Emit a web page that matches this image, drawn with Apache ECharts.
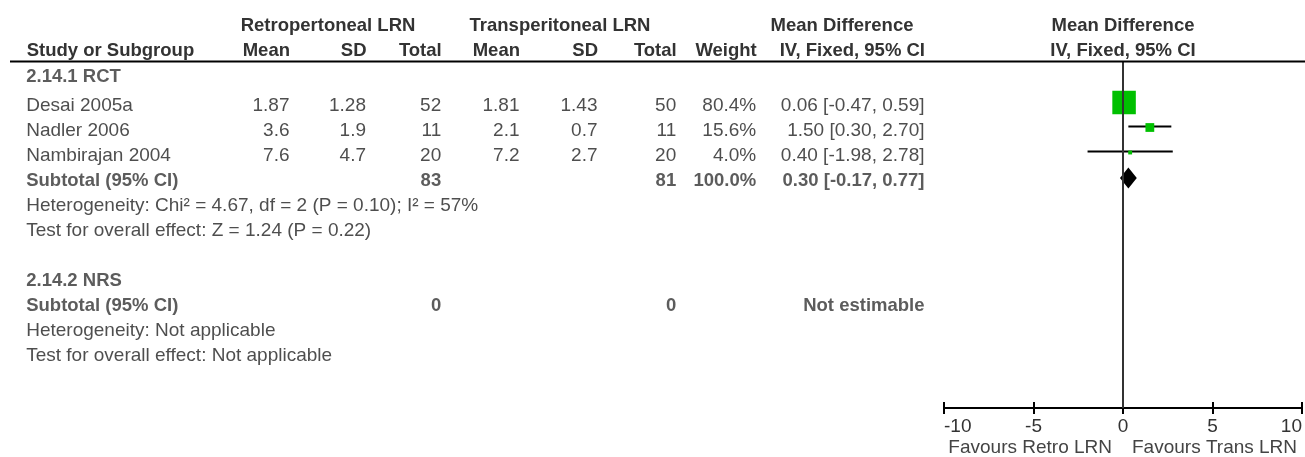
<!DOCTYPE html>
<html>
<head>
<meta charset="utf-8">
<script src="https://cdn.jsdelivr.net/npm/echarts@6/dist/echarts.min.js"></script>
<style>
  html, body { margin: 0; padding: 0; background: #fff; }
  #forest { width: 1305px; height: 457px; }
</style>
</head>
<body>
<div id="forest"></div>
<script>
// study data (MD, IV fixed)
const studies = ['Desai 2005a', 'Nadler 2006', 'Nambirajan 2004'];
const retroMean = [1.87, 3.6, 7.6];
const retroSD = [1.28, 1.9, 4.7];
const retroN = [52, 11, 20];
const transMean = [1.81, 2.1, 7.2];
const transSD = [1.43, 0.7, 2.7];
const transN = [50, 11, 20];
const weights = [80.4, 15.6, 4.0];
const md = [0.06, 1.5, 0.4];
const ciLow = [-0.47, 0.3, -1.98];
const ciHigh = [0.59, 2.7, 2.78];

// subgroup 2.14.1 pooled result
const subN = [83, 81];
const subWeight = 100.0;
const subMd = [0.3, -0.17, 0.77]; // md, low, high
const chi2 = 4.67, df = 2, pHet = 0.10, i2 = 57;
const zVal = 1.24, pZ = 0.22;

// subgroup 2.14.2 (no studies)
const nrsN = [0, 0];

const xTicks = [-10, -5, 0, 5, 10];

// layout
const FONT = 'Liberation Sans, Arial, sans-serif';
const FS = 19;
const FS_B = 18.5;
const TXT = '#222';
const TXT_B = '#333';
const TOP = 61.5;
const GRID_H = 346.5;
const ROW_MIN = -0.8, ROW_MAX = 13.06;
const PLOT_L = 944, PLOT_R = 3;
// right edge of each table column
const COL = {
  name: 26.7, m1: 290, sd1: 366.5, n1: 441.7,
  m2: 520, sd2: 598, n2: 676.7, w: 756.7, ci: 925
};
// rows of the table
const ROW = { rct: 0, study: [1, 2, 3], sub: 4, het: 5, test: 6, nrs: 8, nrsSub: 9, nrsHet: 10, nrsTest: 11 };

const ciText = (m, lo, hi) => `${m.toFixed(2)} [${lo.toFixed(2)}, ${hi.toFixed(2)}]`;

function cell(x, row, text, align, bold, dy) {
  return {
    value: [x, row, text],
    label: {
      align: align,
      fontWeight: bold ? 'bold' : 'normal',
      fontSize: bold ? FS_B : FS,
      color: bold ? TXT_B : TXT,
      offset: [0, dy || 0]
    }
  };
}

const cells = [];
cells.push(cell(COL.name, ROW.rct, '2.14.1 RCT', 'left', true, -4));
studies.forEach((s, i) => {
  const r = ROW.study[i];
  cells.push(cell(COL.name, r, s, 'left'));
  cells.push(cell(COL.m1, r, String(retroMean[i]), 'right'));
  cells.push(cell(COL.sd1, r, String(retroSD[i]), 'right'));
  cells.push(cell(COL.n1, r, String(retroN[i]), 'right'));
  cells.push(cell(COL.m2, r, String(transMean[i]), 'right'));
  cells.push(cell(COL.sd2, r, String(transSD[i]), 'right'));
  cells.push(cell(COL.n2, r, String(transN[i]), 'right'));
  cells.push(cell(COL.w, r, weights[i].toFixed(1) + '%', 'right'));
  cells.push(cell(COL.ci, r, ciText(md[i], ciLow[i], ciHigh[i]), 'right'));
});
cells.push(cell(COL.name, ROW.sub, 'Subtotal (95% CI)', 'left', true));
cells.push(cell(COL.n1, ROW.sub, String(subN[0]), 'right', true));
cells.push(cell(COL.n2, ROW.sub, String(subN[1]), 'right', true));
cells.push(cell(COL.w, ROW.sub, subWeight.toFixed(1) + '%', 'right', true));
cells.push(cell(COL.ci, ROW.sub, ciText(subMd[0], subMd[1], subMd[2]), 'right', true));
cells.push(cell(COL.name, ROW.het,
  `Heterogeneity: Chi² = ${chi2.toFixed(2)}, df = ${df} (P = ${pHet.toFixed(2)}); I² = ${i2}%`, 'left'));
cells.push(cell(COL.name, ROW.test, `Test for overall effect: Z = ${zVal.toFixed(2)} (P = ${pZ.toFixed(2)})`, 'left'));
cells.push(cell(COL.name, ROW.nrs, '2.14.2 NRS', 'left', true));
cells.push(cell(COL.name, ROW.nrsSub, 'Subtotal (95% CI)', 'left', true));
cells.push(cell(COL.n1, ROW.nrsSub, String(nrsN[0]), 'right', true));
cells.push(cell(COL.n2, ROW.nrsSub, String(nrsN[1]), 'right', true));
cells.push(cell(COL.ci, ROW.nrsSub, 'Not estimable', 'right', true));
cells.push(cell(COL.name, ROW.nrsHet, 'Heterogeneity: Not applicable', 'left'));
cells.push(cell(COL.name, ROW.nrsTest, 'Test for overall effect: Not applicable', 'left'));

const maxW = Math.max(...weights);
const studyData = studies.map((s, i) => [md[i], ciLow[i], ciHigh[i], ROW.study[i], weights[i]]);

const myChart = echarts.init(document.getElementById('forest'));

const option = {
  animation: false,
  textStyle: { fontFamily: FONT },
  grid: [
    { left: 0, right: 0, top: TOP, height: GRID_H },
    { left: PLOT_L, right: PLOT_R, top: TOP, height: GRID_H }
  ],
  xAxis: [
    { gridIndex: 0, type: 'value', min: 0, max: 1305, show: false },
    {
      gridIndex: 1, type: 'value', position: 'bottom',
      min: xTicks[0], max: xTicks[xTicks.length - 1], interval: 5,
      splitLine: { show: false },
      axisLine: { onZero: false, lineStyle: { color: '#000', width: 2 } },
      axisTick: { inside: false, length: 6, lineStyle: { color: '#000', width: 2 } },
      axisLabel: {
        fontSize: FS, color: '#333', margin: 9, fontFamily: FONT,
        alignMinLabel: 'left', alignMaxLabel: 'right'
      }
    },
    {
      // second copy only for the ticks above the line
      gridIndex: 1, type: 'value', position: 'bottom',
      min: xTicks[0], max: xTicks[xTicks.length - 1], interval: 5,
      splitLine: { show: false },
      axisLine: { show: false, onZero: false },
      axisTick: { inside: true, length: 6, lineStyle: { color: '#000', width: 2 } },
      axisLabel: { show: false }
    }
  ],
  yAxis: [
    { gridIndex: 0, type: 'value', inverse: true, min: ROW_MIN, max: ROW_MAX, show: false },
    { gridIndex: 1, type: 'value', inverse: true, min: ROW_MIN, max: ROW_MAX, show: false }
  ],
  series: [
    {
      // table text
      type: 'scatter', xAxisIndex: 0, yAxisIndex: 0, silent: true,
      symbolSize: 1, itemStyle: { color: 'transparent' },
      label: {
        show: true, position: [0, 0], verticalAlign: 'middle', fontFamily: FONT,
        formatter: p => p.value[2]
      },
      data: cells
    },
    {
      // study CIs and weighted squares
      type: 'custom', xAxisIndex: 1, yAxisIndex: 1, silent: true,
      encode: { x: [0, 1, 2], y: 3 },
      renderItem: (params, api) => {
        const row = api.value(3);
        const p0 = api.coord([api.value(1), row]);
        const p1 = api.coord([api.value(2), row]);
        const pc = api.coord([api.value(0), row]);
        const size = 23.5 * Math.pow(api.value(4) / maxW, 0.6);
        return {
          type: 'group',
          children: [
            {
              type: 'line',
              shape: { x1: p0[0], y1: p0[1] - 5, x2: p1[0], y2: p1[1] - 5 },
              style: { stroke: '#000', lineWidth: 2 }
            },
            {
              type: 'rect',
              shape: { x: pc[0] - size / 2, y: pc[1] - 4 - size / 2, width: size, height: size },
              style: { fill: '#00c000' }
            }
          ]
        };
      },
      markLine: {
        silent: true, symbol: ['none', 'none'], label: { show: false },
        lineStyle: { color: '#333', width: 2, type: 'solid' },
        data: [{ xAxis: 0 }]
      },
      data: studyData
    },
    {
      // pooled diamond
      type: 'custom', xAxisIndex: 1, yAxisIndex: 1, silent: true,
      encode: { x: [0, 1, 2], y: 3 },
      renderItem: (params, api) => {
        const row = api.value(3);
        const lo = api.coord([api.value(1), row]);
        const hi = api.coord([api.value(2), row]);
        const c = api.coord([api.value(0), row]);
        const y = c[1] - 3.5;
        return {
          type: 'polygon',
          shape: { points: [[lo[0], y], [c[0], y - 10.5], [hi[0], y], [c[0], y + 10.5]] },
          style: { fill: '#000' }
        };
      },
      data: [[subMd[0], subMd[1], subMd[2], ROW.sub]]
    }
  ]
};

myChart.setOption(option);

// headers and favours labels
const zeroX = myChart.convertToPixel({ xAxisIndex: 1 }, 0);
const plotMid = myChart.convertToPixel({ xAxisIndex: 1 }, (xTicks[0] + xTicks[xTicks.length - 1]) / 2);

function txt(x, y, text, align, bold, color) {
  return {
    type: 'text', x: x, y: y, z: 100,
    style: {
      text: text, align: align, verticalAlign: 'middle',
      fontFamily: FONT, fontSize: bold ? FS_B : FS, fontWeight: bold ? 'bold' : 'normal',
      fill: color || (bold ? TXT_B : TXT)
    }
  };
}

myChart.setOption({
  graphic: [
    { type: 'line', z: 100, shape: { x1: 10, y1: TOP, x2: 1305, y2: TOP }, style: { stroke: '#000', lineWidth: 2 } },
    txt(328, 26, 'Retropertoneal LRN', 'center', true),
    txt(560, 26, 'Transperitoneal LRN', 'center', true),
    txt(842, 26, 'Mean Difference', 'center', true),
    txt(plotMid, 26, 'Mean Difference', 'center', true),
    txt(COL.name, 51, 'Study or Subgroup', 'left', true),
    txt(COL.m1, 51, 'Mean', 'right', true),
    txt(COL.sd1, 51, 'SD', 'right', true),
    txt(COL.n1, 51, 'Total', 'right', true),
    txt(COL.m2, 51, 'Mean', 'right', true),
    txt(COL.sd2, 51, 'SD', 'right', true),
    txt(COL.n2, 51, 'Total', 'right', true),
    txt(COL.w, 51, 'Weight', 'right', true),
    txt(COL.ci, 51, 'IV, Fixed, 95% CI', 'right', true),
    txt(plotMid, 51, 'IV, Fixed, 95% CI', 'center', true),
    txt(zeroX - 11, 448, 'Favours Retro LRN', 'right', false, '#444'),
    txt(zeroX + 9, 448, 'Favours Trans LRN', 'left', false, '#444')
  ]
});
</script>
</body>
</html>
